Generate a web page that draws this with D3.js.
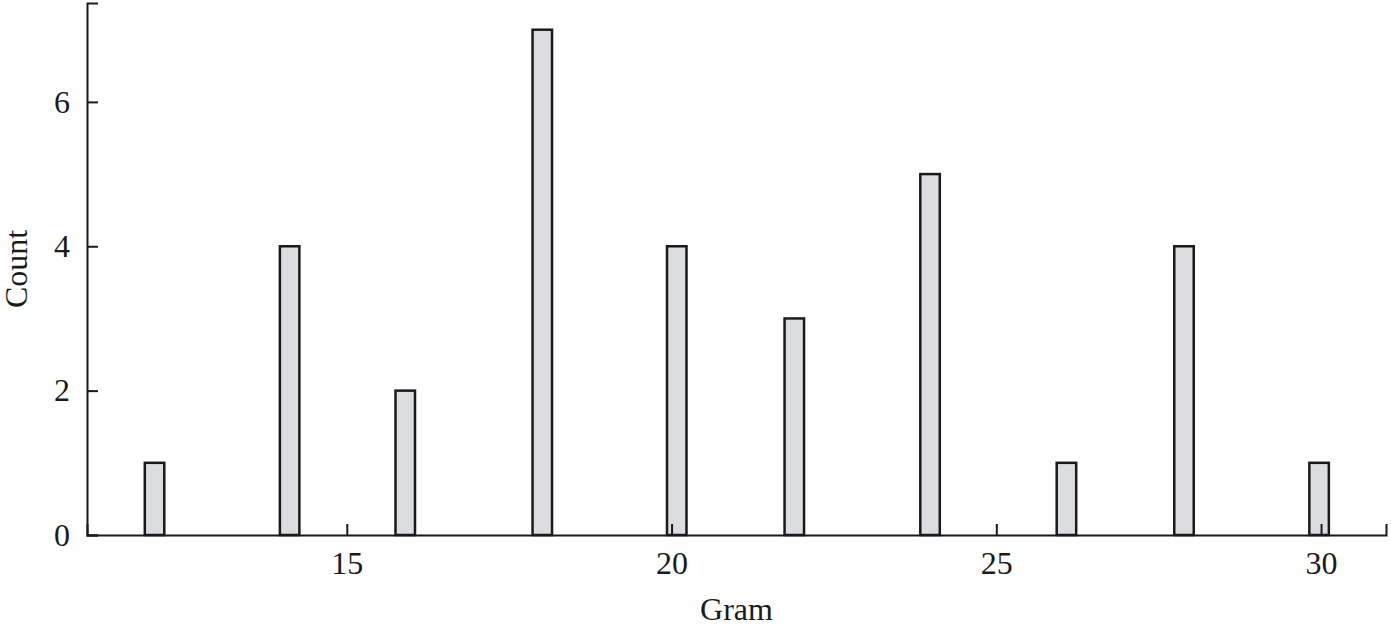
<!DOCTYPE html>
<html>
<head>
  <meta charset="utf-8">
  <title>Gram histogram</title>
  <script src="https://cdnjs.cloudflare.com/ajax/libs/d3/7.8.5/d3.min.js"></script>
  <style>
    body { margin: 0; background: #fff; }
    .axis text { font-family: "Liberation Serif", "Times New Roman", serif; font-size: 32px; fill: #1a1a1a; }
    .axis path, .axis line { stroke: #1a1a1a; stroke-width: 2px; }
    .label { font-family: "Liberation Serif", "Times New Roman", serif; font-size: 32px; fill: #1a1a1a; }
  </style>
</head>
<body>
<div id="chart"></div>
<script>
// bar positions (gram) and counts
var grams  = [12.04, 14.12, 15.9, 18.01, 20.08, 21.89, 23.98, 26.08, 27.89, 29.97];
var counts = [1, 4, 2, 7, 4, 3, 5, 1, 4, 1];
var xTicks = [15, 20, 25, 30];
var yTicks = [0, 2, 4, 6];

var W = 1391, H = 626;
var margin = {top: 3, right: 5, bottom: 91, left: 87};
var w = W - margin.left - margin.right,
    h = H - margin.top - margin.bottom;

var svg = d3.select('#chart').append('svg')
    .attr('width', W)
    .attr('height', H)
  .append('g')
    .attr('transform', 'translate(' + margin.left + ',' + margin.top + ')');

var x = d3.scaleLinear().domain([11, 31]).range([0, w]);
var y = d3.scaleLinear().domain([0, 7.37]).range([h, 0]);

var halfBar = 0.15; // bar half width in gram units

var data = grams.map(function(g, i) { return {gram: g, count: counts[i]}; });

svg.selectAll('rect.bar')
    .data(data)
    .enter()
    .append('rect')
    .attr('class', 'bar')
    .attr('x', function(d) { return x(d.gram - halfBar); })
    .attr('width', function(d) { return x(d.gram + halfBar) - x(d.gram - halfBar); })
    .attr('y', function(d) { return y(d.count); })
    .attr('height', function(d) { return h - y(d.count); })
    .attr('fill', '#dcdde0')
    .attr('stroke', '#1a1a1a')
    .attr('stroke-width', 2.5);

// axes with ticks pointing inward
svg.append('g')
    .attr('class', 'axis')
    .attr('transform', 'translate(0,' + h + ')')
    .call(d3.axisBottom(x).tickValues(xTicks).tickSize(-11).tickPadding(16));

svg.append('g')
    .attr('class', 'axis')
    .call(d3.axisLeft(y).tickValues(yTicks).tickSize(-11).tickPadding(17));

svg.selectAll('.axis .domain').attr('fill', 'none');

svg.append('text')
    .attr('class', 'label')
    .attr('x', w / 2)
    .attr('y', h + 85)
    .attr('text-anchor', 'middle')
    .text('Gram');

svg.append('text')
    .attr('class', 'label')
    .attr('transform', 'translate(' + (-60) + ',' + (h / 2) + ') rotate(-90)')
    .attr('text-anchor', 'middle')
    .text('Count');
</script>
</body>
</html>
